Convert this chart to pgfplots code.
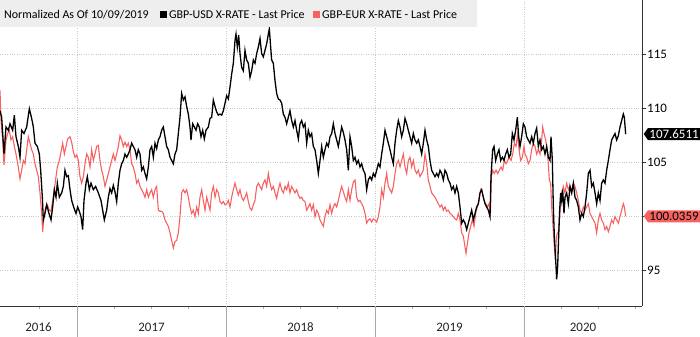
\documentclass[border=0pt]{standalone}
\usepackage{fontspec}
\setmainfont{Carlito}
\usepackage{pgfplots}
\usepackage{pgfplotstable}
\pgfplotsset{compat=1.18}
\usetikzlibrary{shapes.symbols}
\definecolor{eurc}{RGB}{246,98,98}
\definecolor{gridc}{RGB}{200,200,200}
\definecolor{bandc}{RGB}{238,238,238}
\definecolor{sepc}{RGB}{170,170,170}

% X: position along the time axis (year boundaries at 231, 678, 1125, 1572)
\pgfplotstableread{
x y
0 109.8
5 109.2
12 105.8
18 108.3
25 108
30 108.6
38 108
43 109.4
48 107.4
55 106.5
60 105.5
65 108
72 107.7
80 108.3
88 110
95 109.1
100 108.3
105 106.8
112 106.5
118 105.8
122 104.3
127 101.8
130 99.7
135 100.3
140 101.1
147 100.3
153 99.7
158 100.9
163 102.5
168 101.8
172 103.1
178 101.8
185 102.2
190 102.8
195 104.3
200 103.7
205 103.8
210 102.5
215 101.5
222 100.8
228 100.3
233 100.9
238 100.5
243 100
248 98.8
252 101.5
258 103.1
262 103.7
268 102.5
273 103.1
280 102.5
287 102.8
295 102.2
303 101.5
308 100.6
313 99.7
320 100.6
325 101.8
330 102.6
335 102.2
340 102.9
345 102.3
350 101.4
355 103.1
360 104.3
365 104.9
370 105.2
375 105.8
380 105.5
385 105.8
390 106.2
395 106.8
400 106.5
405 106.2
410 105.5
415 106.2
420 105.8
425 104.3
430 104.6
435 104
440 103.5
445 104.6
450 106.2
455 106.5
460 105.5
465 106.8
470 106.3
475 107.1
480 107.4
485 108
490 108.3
495 107.4
500 106.5
505 106.2
510 105.5
515 105.2
520 104.9
525 105.8
530 106.2
535 107.7
540 109.2
545 111.4
550 110.8
555 111.1
560 110.2
565 109.5
570 108.3
573 107.1
578 108.6
583 108.3
588 108
593 108.6
598 108.3
603 107.4
608 108
613 107.2
618 108
625 108.3
630 109.1
635 109.2
640 110.8
645 110.2
650 109.7
655 109.4
660 109.5
665 109.4
670 109.8
675 110.5
680 111.2
685 110.9
690 112
695 113.2
700 114.2
705 116.3
708 116.9
712 115.7
716 116.8
720 115.1
725 113.8
730 113.5
735 115.4
740 114.5
745 114.2
750 112.9
755 113.5
760 114.5
765 114.2
770 115.1
775 115.7
780 116.5
785 115.1
790 114.8
795 115.4
800 116
805 116.9
808 117.4
812 115.7
815 114.5
820 114.2
825 112.6
830 111.4
835 110.9
840 110.8
845 110.5
850 109.5
855 109.2
860 108.6
865 109.2
870 109.8
875 108.9
880 108.3
885 108.9
890 108
895 107.2
900 108.6
905 108.9
910 108.3
915 108.6
920 106.8
925 108
930 107.4
935 107.7
940 106.5
945 106.2
950 105.2
955 104
960 105.2
965 106.5
970 105.5
975 106.2
980 106.8
985 106.5
990 107.4
995 107.7
1000 108.6
1005 107.7
1010 107.1
1015 106.5
1020 107.4
1025 108.3
1030 107.8
1035 107.1
1040 106.2
1045 104.3
1050 107.4
1055 106.5
1060 105.2
1065 105.5
1070 104.9
1075 105.2
1080 104.6
1085 104.9
1090 104.3
1095 104
1100 102.5
1105 103.4
1110 103.7
1115 103.4
1120 104
1125 103.7
1130 104.3
1135 104.9
1140 104.6
1145 105.8
1150 106.8
1155 108
1160 107.4
1165 106.8
1170 106.2
1175 105.5
1180 104.9
1185 106.8
1190 108
1195 108.9
1200 108.3
1205 107.4
1210 108
1215 109.1
1220 108.6
1225 108
1230 107.4
1235 106.8
1240 107.7
1245 107.1
1250 106.8
1255 107.1
1260 106.5
1265 105.8
1270 106.8
1275 108
1280 107.1
1285 106.5
1290 105.2
1295 104.3
1300 104
1305 103.7
1310 104
1315 103.7
1320 104.3
1325 104
1330 103.4
1335 104.3
1340 104
1345 103.4
1350 103.1
1355 102.5
1360 102.8
1365 102.2
1370 102.8
1375 102.2
1380 100.9
1385 99.4
1390 99.7
1395 99.4
1400 98.8
1405 99.4
1410 100
1415 100.6
1420 99.7
1425 100.3
1430 100.9
1435 101.2
1440 102.2
1445 102.5
1450 101.8
1455 101.2
1460 100.9
1465 100.6
1470 100
1473 103.7
1478 106.2
1482 106.5
1487 105.2
1492 105.8
1497 106.2
1502 105.2
1507 105.5
1512 105.2
1517 105.8
1522 106.2
1527 105.5
1532 105.8
1537 107.7
1542 107.1
1547 108
1552 109.2
1556 107.4
1560 106.5
1565 107.4
1570 108.6
1575 108.3
1580 107.4
1585 107.1
1590 106.8
1595 107.4
1600 106.8
1605 107.7
1610 108.2
1615 106.5
1620 107.1
1625 106.2
1630 106.5
1635 105.8
1640 106.5
1645 105.5
1650 105.2
1653 107.4
1657 105.2
1660 100.9
1663 98.2
1667 96
1670 94.2
1673 95.4
1676 98.2
1679 100.6
1682 102.2
1685 101.5
1688 102.5
1692 100.3
1695 101.8
1700 102.2
1705 101.2
1710 102.8
1715 102.2
1720 103.1
1725 101.8
1730 101.5
1735 100.9
1740 99.7
1745 100.3
1750 100
1755 100.9
1760 102.2
1765 104
1770 104.3
1775 102.8
1780 103.1
1785 102.2
1790 101.2
1795 102.2
1800 101.5
1805 103.1
1810 103.4
1815 103.1
1820 104.3
1825 105.2
1830 106.2
1835 107.1
1840 107.4
1845 107.7
1850 107.1
1855 107.5
1860 108.3
1865 108.9
1870 109.5
1873 109.2
1877 107.65
}\usd

\pgfplotstableread{
x y
0 111.7
3 108.9
8 107.1
12 104.8
18 107.1
23 107.7
28 108
33 107.1
38 107.4
43 106.5
48 105.8
55 104.6
60 103.5
65 104.3
70 105.2
75 104.9
80 106.2
85 107.4
90 106.8
95 106.2
100 105.8
105 104.9
110 104.3
115 103.7
120 102.2
125 100.3
128 98.6
132 100
137 100.9
142 101.1
148 100.6
153 100.5
158 101.5
163 102.5
168 103.7
172 104.6
178 105.2
183 106
188 106.8
193 105.8
198 106.5
203 107.2
210 107.4
215 106.9
220 106
225 105.5
230 105.7
235 105.2
240 103.7
245 103.1
250 103.7
255 104.9
260 105.8
265 105.5
270 104.6
275 106.2
280 105.2
285 105.8
290 106.5
295 106.6
300 105.2
305 104.3
310 103.7
315 102.8
320 103.4
325 104
330 104.6
335 105.2
340 105.8
345 105.2
350 105.8
355 106.5
360 107.5
365 107.1
370 106.5
375 106.9
380 106.5
385 106.8
390 106.2
395 104.9
400 104.6
405 104
410 103.1
415 103.4
420 102.8
425 102.5
430 102.2
435 101.8
440 102.5
445 101.8
450 102.2
455 102.5
460 101.8
465 102.5
470 102.8
475 100.6
480 100.5
485 100.5
490 100.3
495 99.7
500 99.4
505 99.1
510 98.5
515 97.8
520 97.1
525 97.7
530 97.8
535 98.5
540 100
545 102.2
550 102.5
555 102.2
560 102.5
565 101.8
570 100.9
575 100.3
580 100.6
585 100
590 100.9
595 100.3
600 101.8
605 102.5
610 101.5
615 100.6
620 101.8
625 101.2
630 100.6
635 102.2
640 102.8
645 101.8
650 102.5
655 102.2
660 101.4
665 101.2
670 101.4
675 101.1
680 101.2
685 101.5
690 100.9
695 101.8
700 102.5
705 103.1
710 102.5
715 102
720 102.5
725 101.8
730 101.5
735 101.8
740 102.2
745 101.4
750 100.8
755 100.6
760 101.1
765 101.5
770 102.8
775 103.1
780 102.8
785 102.5
790 103.1
795 103.4
800 102.8
805 104
810 103.1
815 102.5
820 102.8
825 102.2
830 101.7
835 102.5
840 103.1
845 102.5
850 102.2
855 102.8
860 102.5
865 103.1
870 102.2
875 102.8
880 102.5
885 102.2
890 102.5
895 102
900 101.7
905 101.8
910 101.5
915 101.4
920 100.6
925 100.9
930 101.2
935 100.6
940 101.1
945 100
950 100.6
955 100.3
960 99.7
965 99.4
970 99.1
975 100
980 100.6
985 100.3
990 101.1
995 100.3
1000 100.9
1005 101.2
1010 100.9
1015 101.5
1020 102.2
1025 102.8
1030 102.3
1035 101.8
1040 101.4
1045 102.5
1050 101.5
1055 102.5
1060 103.2
1065 103.4
1070 101.8
1075 101.4
1080 101.5
1085 101.2
1090 100.9
1095 100.3
1100 99.4
1105 99.7
1110 99.8
1115 99.5
1120 99.8
1125 99.7
1130 99.5
1135 100
1140 100.9
1145 102.5
1150 101.8
1155 103.1
1160 104
1165 102.8
1170 102.5
1175 102.2
1180 102.8
1185 104
1190 104.9
1195 105.2
1200 104.6
1205 105.2
1210 105.8
1215 104.6
1220 104
1225 105.2
1230 105.5
1235 104.6
1240 105.2
1245 104.3
1250 104
1255 104.3
1260 103.7
1265 104
1270 104.3
1275 105.8
1280 104.9
1285 103.4
1290 102.8
1295 102.2
1300 102
1305 101.8
1310 101.5
1315 101.2
1320 100.9
1325 101.1
1330 100.6
1335 100.9
1340 100.5
1345 100.6
1350 100.3
1355 100.2
1360 100
1365 99.8
1370 99.7
1375 100.3
1380 99.7
1385 98.5
1390 98.2
1395 97.2
1398 96.6
1402 97.5
1407 98.5
1412 99.1
1417 99.7
1422 99.1
1427 100.3
1432 100.9
1437 101.5
1442 102.5
1447 102.2
1452 101.5
1457 101.2
1462 100.9
1467 101.2
1471 100
1474 103.7
1478 104.3
1483 104
1488 104.3
1493 104
1498 104.3
1503 104.6
1508 104.3
1513 105.2
1518 104.9
1523 105.2
1528 105.5
1533 105.2
1538 105.8
1543 106.8
1548 106.5
1553 107.7
1557 106.2
1562 105.2
1567 105.5
1572 106.5
1575 105.8
1580 105.5
1585 104.9
1590 105.2
1595 106.2
1600 106.8
1605 106.5
1610 105.8
1615 106.2
1620 105.8
1625 107.1
1628 108.3
1632 107.7
1637 107.1
1641 106.2
1645 104.9
1648 103.4
1652 103.1
1655 100.9
1659 99.1
1663 97.2
1666 96
1669 98
1672 98.5
1675 98.5
1678 99.7
1681 100.9
1685 102.2
1690 102.8
1695 102.2
1700 103.1
1705 102.5
1710 102.8
1715 102.2
1720 103.1
1725 102.8
1730 102.2
1735 101.5
1740 100.6
1745 100.3
1750 100.9
1755 100.6
1760 100.9
1765 101.2
1770 100.3
1775 100
1780 99.7
1785 99.4
1790 98.5
1795 99.7
1800 100.3
1805 99.7
1810 99.4
1815 98.8
1820 99.1
1825 98.6
1830 99.1
1835 99.7
1840 99.4
1845 100
1850 99.7
1855 99.4
1860 100
1865 100.6
1870 101.2
1873 100.9
1877 100.04
}\eur

\begin{document}
\begin{tikzpicture}
\begin{axis}[
  at={(0,0)}, anchor=south west,
  width=642bp, height=306bp, scale only axis,
  xmin=0, xmax=1926, ymin=91.73, ymax=120.06,
  axis x line=bottom, axis y line=right,
  axis line style={-, draw=black!80, line width=0.9bp},
  ytick={95,100,105,110,115},
  yticklabels={95,,105,110,115},
  xtick={231,678,1125,1572},
  xticklabels={},
  minor xtick={119.25,342.75,454.5,566.25,789.75,901.5,1013.25,1236.75,1348.5,1460.25,1683.75,1795.5,1907.25},
  grid=major,
  grid style={dotted, gridc, line width=0.7bp},
  tick align=outside,
  major tick length=4bp,
  minor tick length=3bp,
  ytick style={draw=black!80, line width=0.7bp},
  xtick style={draw=sepc, line width=0.6bp},
  /pgf/number format/assume math mode=true,
  yticklabel style={font=\fontsize{13}{15}\selectfont, inner xsep=1bp},
]
\addplot[eurc, line width=1.1bp] table[x=x, y=y] {\eur};
\addplot[black, line width=1.3bp] table[x=x, y=y] {\usd};
\coordinate (y16) at (axis cs:115.5,91.73);
\coordinate (y17) at (axis cs:454.5,91.73);
\coordinate (y18) at (axis cs:901.5,91.73);
\coordinate (y19) at (axis cs:1348.5,91.73);
\coordinate (y20) at (axis cs:1749,91.73);
\coordinate (s1) at (axis cs:231,91.73);
\coordinate (s2) at (axis cs:678,91.73);
\coordinate (s3) at (axis cs:1125,91.73);
\coordinate (s4) at (axis cs:1572,91.73);
\coordinate (bu) at (axis cs:1926,107.6511);
\coordinate (be) at (axis cs:1926,100.0359);
\end{axis}
% year separators
\foreach \s in {s1,s2,s3,s4} \draw[sepc, line width=0.6bp] (\s) -- ++(0,-31bp);
% year labels
\foreach \c/\t in {y16/2016,y17/2017,y18/2018,y19/2019,y20/2020}
  \node[anchor=base, inner sep=0, font=\fontsize{13}{15}\selectfont, text=black!85] at ([yshift=-25.5bp]\c) {\t};
% last value boxes
\node[shape=signal, signal to=west, signal pointer angle=110, fill=black, text=white,
      anchor=west, inner xsep=1.5bp, inner ysep=0.5bp, minimum height=12bp, minimum width=70bp,
      font=\fontsize{13}{14}\selectfont, align=left] at ([xshift=1.5bp]bu) {107.6511\hspace{14bp}};
\node[shape=signal, signal to=west, signal pointer angle=110, fill=eurc, text=black,
      anchor=west, inner xsep=1.5bp, inner ysep=0.5bp, minimum height=12bp, minimum width=70bp,
      font=\fontsize{13}{14}\selectfont, align=left] at ([xshift=1.5bp]be) {100.0359\hspace{14bp}};
% legend band
\fill[bandc] (0,279bp) rectangle (477bp,306bp);
\node[anchor=base west, inner sep=0, font=\fontsize{12}{14}\selectfont] at (4bp,287.7bp) {Normalized As Of 10/09/2019};
\fill[black] (160bp,287.7bp) rectangle (167bp,294.5bp);
\node[anchor=base west, inner sep=0, font=\fontsize{12}{14}\selectfont] at (169bp,287.7bp) {GBP-USD X-RATE - Last Price};
\fill[eurc] (313bp,287.7bp) rectangle (320bp,294.5bp);
\node[anchor=base west, inner sep=0, font=\fontsize{12}{14}\selectfont] at (322bp,287.7bp) {GBP-EUR X-RATE - Last Price};
\pgfresetboundingbox
\useasboundingbox (0,-31bp) rectangle (700bp,306bp);
\end{tikzpicture}
\end{document}
